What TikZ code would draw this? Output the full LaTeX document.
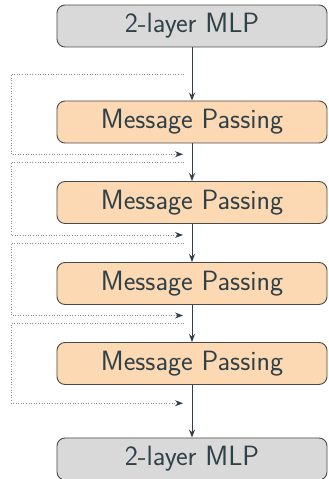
\documentclass[tikz,border=0pt]{standalone}
\usetikzlibrary{calc,arrows.meta}
\definecolor{boxgrey}{HTML}{D9D9D9}
\definecolor{boxpeach}{HTML}{FDD9B3}
\definecolor{ink}{HTML}{2F4148}
\definecolor{frame}{HTML}{4A4A4A}
\definecolor{skipgrey}{HTML}{8C8C8C}
\begin{document}
\begin{tikzpicture}[x=1bp,y=1bp,
  block/.style={draw=frame, line width=0.9bp, rounded corners=8bp,
    minimum width=270bp, minimum height=42bp, inner sep=0pt,
    text=ink, font=\sffamily\fontsize{28}{32}\selectfont},
  mlp/.style={block, fill=boxgrey},
  mp/.style={block, fill=boxpeach},
  flow/.style={draw=ink, line width=0.9bp, -{Stealth[length=8bp,width=6bp]}},
  skip/.style={draw=skipgrey, line width=0.8bp, dash pattern=on 0.8bp off 1.8bp,
    -{Stealth[length=8bp,width=6bp,color=ink]}}]
\useasboundingbox (0,0) rectangle (328,479);

% stack of blocks
\node[mlp] (in)  at (192,453)   {2-layer MLP};
\node[mp]  (mp1) at (192,357)   {Message Passing};
\node[mp]  (mp2) at (192,276.5) {Message Passing};
\node[mp]  (mp3) at (192,195.5) {Message Passing};
\node[mp]  (mp4) at (192,115.5) {Message Passing};
\node[mlp] (out) at (192,20)    {2-layer MLP};

% main flow
\draw[flow] (in)  -- (mp1);
\draw[flow] (mp1) -- (mp2);
\draw[flow] (mp2) -- (mp3);
\draw[flow] (mp3) -- (mp4);
\draw[flow] (mp4) -- (out);

% midpoints of the gaps between blocks
\coordinate (g0) at ($(in.south)!0.5!(mp1.north)$);
\coordinate (g1) at ($(mp1.south)!0.5!(mp2.north)$);
\coordinate (g2) at ($(mp2.south)!0.5!(mp3.north)$);
\coordinate (g3) at ($(mp3.south)!0.5!(mp4.north)$);
\coordinate (g4) at ($(mp4.south)!0.5!(out.north)$);
\coordinate (lane) at (11,0);

% residual connections around each message passing block
\foreach \a/\b in {g0/g1, g1/g2, g2/g3, g3/g4}{
  \coordinate (from) at ($(\a)+(-8,0)$);
  \coordinate (c1) at (\a -| lane);
  \coordinate (c2) at ($(\b -| lane)+(0,8)$);
  \coordinate (to) at ($(\b)+(-9,8)$);
  \draw[skip] (from) -- (c1) -- (c2) -- (to);
}
\end{tikzpicture}
\end{document}
